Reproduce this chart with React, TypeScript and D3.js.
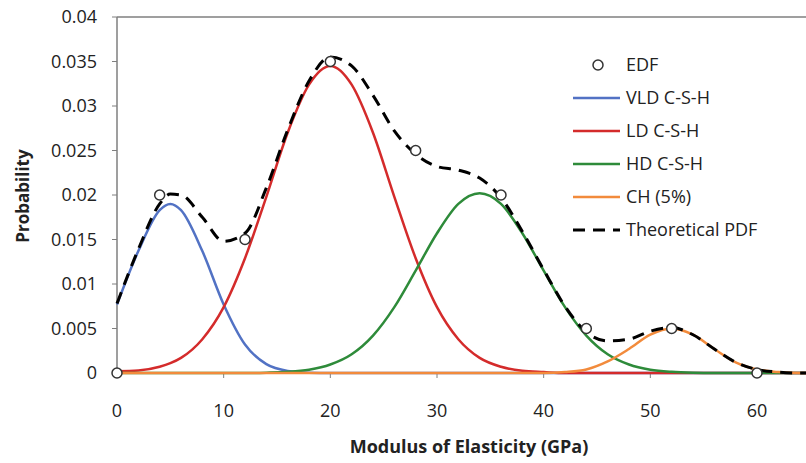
import React from "react";
import * as d3 from "d3";

const modulus = [0, 2, 4, 5, 6, 8, 10, 12, 14, 16, 18, 20, 22, 24, 26, 28, 30, 32, 34, 36, 38, 40, 42, 44, 46, 48, 50, 52, 54, 56, 58, 60, 62, 64, 66];
const vldCSH = [0.0077, 0.0137, 0.0183, 0.019, 0.0183, 0.0137, 0.0077, 0.0032, 0.001, 0.00024, 0.00004, 0, 0, 0, 0, 0, 0, 0, 0, 0, 0, 0, 0, 0, 0, 0, 0, 0, 0, 0, 0, 0, 0, 0, 0];
const ldCSH = [0.0002, 0.00028, 0.0007, 0.0011, 0.0017, 0.0038, 0.0074, 0.0129, 0.0198, 0.027, 0.0324, 0.0345, 0.0324, 0.027, 0.0198, 0.0129, 0.0074, 0.0038, 0.0017, 0.0007, 0.00024, 0.0001, 0, 0, 0, 0, 0, 0, 0, 0, 0, 0, 0, 0, 0];
const hdCSH = [0, 0, 0, 0, 0, 0, 0, 0, 0.00004, 0.00013, 0.00037, 0.00095, 0.0021, 0.0042, 0.0074, 0.0115, 0.0157, 0.019, 0.0202, 0.019, 0.0157, 0.0115, 0.0074, 0.0042, 0.0021, 0.00095, 0.00037, 0.00013, 0.00003, 0, 0, 0, 0, 0, 0];
const ch5 = [0, 0, 0, 0, 0, 0, 0, 0, 0, 0, 0, 0, 0, 0, 0, 0, 0, 0, 0, 0, 0, 0, 0.0001, 0.0004, 0.0013, 0.0027, 0.0043, 0.005, 0.0043, 0.0027, 0.0012, 0.0004, 0.0001, 0, 0];
const theoreticalPDF = [0.0078, 0.0139, 0.019, 0.0201, 0.02, 0.0175, 0.0148, 0.0157, 0.0208, 0.0273, 0.0328, 0.0355, 0.0345, 0.0312, 0.0272, 0.0246, 0.0232, 0.0228, 0.0219, 0.0197, 0.0159, 0.0116, 0.0075, 0.0046, 0.0036, 0.0038, 0.0047, 0.0051, 0.0043, 0.0027, 0.0012, 0.0004, 0.0001, 0, 0];

const edfX = [0, 4, 12, 20, 28, 36, 44, 52, 60];
const edfY = [0, 0.02, 0.015, 0.035, 0.025, 0.02, 0.005, 0.005, 0];

const xTicks = [0, 10, 20, 30, 40, 50, 60];
const yTicks = [0, 0.005, 0.01, 0.015, 0.02, 0.025, 0.03, 0.035, 0.04];

const seriesNames = ["VLD C-S-H", "LD C-S-H", "HD C-S-H", "CH (5%)"];
const seriesColors = ["#5272C4", "#D42B2B", "#2E8B3A", "#F28B3C"];
const seriesValues = [vldCSH, ldCSH, hdCSH, ch5];

const W = 806;
const H = 463;
const FONT = "'Open Sans', 'Liberation Sans', sans-serif";

export default function App() {
  const x = d3.scaleLinear().domain([0, 60]).range([117, 757]);
  const y = d3.scaleLinear().domain([0, 0.04]).range([373, 17]);
  const line = d3
    .line<[number, number]>()
    .x((d) => x(d[0]))
    .y((d) => y(Math.max(0, d[1])))
    .curve(d3.curveMonotoneX);

  const pts = (vals: number[]) => modulus.map((m, i) => [m, vals[i]] as [number, number]);

  const legendRows = [65, 98, 131, 164, 197, 230];

  return (
    <div style={{ position: "fixed", left: 0, top: 0, width: W, height: H, background: "#fff" }}>
      <svg width={W} height={H} style={{ display: "block", fontFamily: FONT }}>
        <rect x={0} y={0} width={W} height={H} fill="#fff" />
        <line x1={117} x2={W} y1={17} y2={17} stroke="#7f7f7f" strokeWidth={1.5} />
        <line x1={117} x2={117} y1={17} y2={373} stroke="#7f7f7f" strokeWidth={1.5} />
        {yTicks.map((t) => (
          <g key={"y" + t}>
            <line x1={112} x2={117} y1={y(t)} y2={y(t)} stroke="#7f7f7f" strokeWidth={1} />
            <text x={97} y={y(t)} dy="0.35em" textAnchor="end" fontSize={18} fill="#222">
              {t === 0 ? "0" : String(+t.toFixed(3))}
            </text>
          </g>
        ))}
        <line x1={117} x2={W} y1={373} y2={373} stroke="#7f7f7f" strokeWidth={1.5} />
        {xTicks.map((t) => (
          <g key={"x" + t}>
            <line x1={x(t)} x2={x(t)} y1={373} y2={378} stroke="#7f7f7f" strokeWidth={1} />
            <text x={x(t)} y={417} textAnchor="middle" fontSize={18} fill="#222">
              {t}
            </text>
          </g>
        ))}
        {seriesValues.map((vals, i) => (
          <path key={"s" + i} d={line(pts(vals)) || ""} fill="none" stroke={seriesColors[i]} strokeWidth={2.5} />
        ))}
        <path d={line(pts(theoreticalPDF)) || ""} fill="none" stroke="#000" strokeWidth={3} strokeDasharray="12,8" />
        {edfX.map((m, i) => (
          <circle key={"e" + i} cx={x(m)} cy={y(edfY[i])} r={5} fill="#fff" stroke="#333" strokeWidth={1.5} />
        ))}
        <circle cx={598} cy={legendRows[0]} r={5} fill="#fff" stroke="#333" strokeWidth={1.5} />
        <text x={626} y={legendRows[0]} dy="0.35em" fontSize={18} fill="#222">EDF</text>
        {seriesNames.map((n, i) => (
          <g key={"l" + i}>
            <line x1={573} x2={620} y1={legendRows[i + 1]} y2={legendRows[i + 1]} stroke={seriesColors[i]} strokeWidth={2.5} />
            <text x={626} y={legendRows[i + 1]} dy="0.35em" fontSize={18} fill="#222">{n}</text>
          </g>
        ))}
        <line x1={573} x2={620} y1={legendRows[5]} y2={legendRows[5]} stroke="#000" strokeWidth={3} strokeDasharray="12,8" />
        <text x={626} y={legendRows[5]} dy="0.35em" fontSize={18} fill="#222">Theoretical PDF</text>
        <text x={469} y={453} textAnchor="middle" fontSize={18} fontWeight="bold" fill="#222">
          Modulus of Elasticity (GPa)
        </text>
        <text transform="translate(29,196) rotate(-90)" textAnchor="middle" fontSize={17} fontWeight="bold" fill="#222">
          Probability
        </text>
      </svg>
    </div>
  );
}
